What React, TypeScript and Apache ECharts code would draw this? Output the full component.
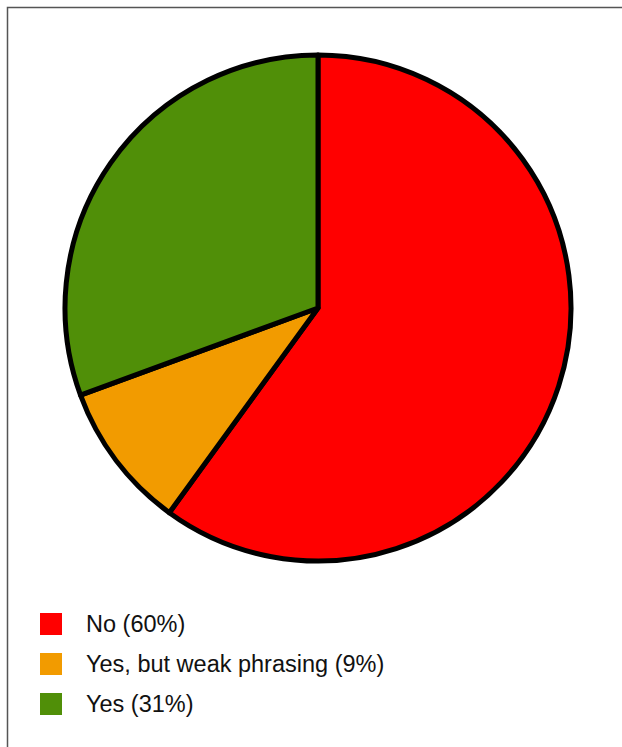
import React, { useEffect, useRef } from "react";
import * as echarts from "echarts";

const categories = ["No", "Yes, but weak phrasing", "Yes"];
const values = [60, 9.4, 30.6];
const percentLabels = ["60%", "9%", "31%"];
const colors = ["#ff0000", "#f29b00", "#508f08"];

export default function App() {
  const ref = useRef<HTMLDivElement>(null);
  useEffect(() => {
    if (!ref.current) return;
    const chart = echarts.init(ref.current, null, { renderer: "svg" });
    const data = categories.map((name, i) => ({
      name,
      value: values[i],
      itemStyle: { color: colors[i] },
    }));
    const labelMap: Record<string, string> = {};
    categories.forEach((c, i) => (labelMap[c] = `${c} (${percentLabels[i]})`));
    chart.setOption({
      animation: false,
      backgroundColor: "#ffffff",
      graphic: [
        {
          type: "rect",
          shape: { x: 7.5, y: 7.5, width: 700, height: 800 },
          style: { fill: "none", stroke: "#555555", lineWidth: 1.5 },
          silent: true,
          z: -1,
        },
      ],
      legend: {
        orient: "vertical",
        left: 40,
        top: 612,
        padding: 0,
        itemWidth: 22,
        itemHeight: 22,
        itemGap: 16,
        icon: "rect",
        selectedMode: false,
        itemStyle: { borderWidth: 0 },
        formatter: (name: string) => labelMap[name],
        textStyle: {
          fontFamily: "Liberation Sans, Arial, sans-serif",
          fontSize: 23.5,
          color: "#111111",
          padding: [0, 0, 0, 19],
        },
        data: categories,
      },
      series: [
        {
          type: "pie",
          center: [318, 308],
          radius: 253,
          startAngle: 90,
          clockwise: true,
          silent: true,
          label: { show: false },
          labelLine: { show: false },
          itemStyle: { borderColor: "#000000", borderWidth: 5 },
          emphasis: { disabled: true },
          data,
        },
      ],
    });
    return () => chart.dispose();
  }, []);
  return (
    <div
      ref={ref}
      style={{ position: "fixed", left: 0, top: 0, width: 622, height: 747 }}
    />
  );
}
